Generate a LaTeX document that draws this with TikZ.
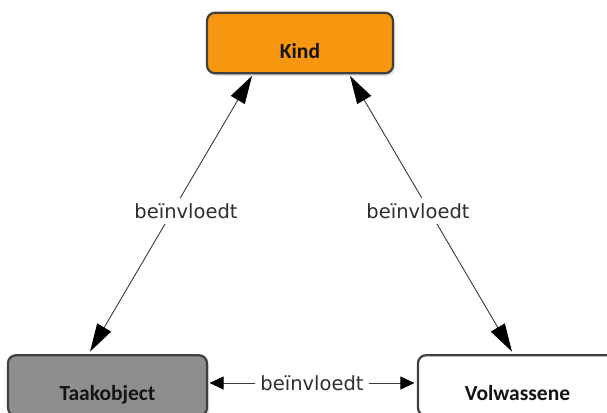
\documentclass[tikz,border=0pt]{standalone}
\usepackage{fontspec}
\setmainfont{DejaVu Sans}
\newfontfamily\boxfont{Carlito}
\usetikzlibrary{arrows.meta,shadows,calc}
\definecolor{kindorange}{HTML}{F7970F}
\definecolor{taakgrey}{HTML}{8E8E8E}
\definecolor{boxborder}{HTML}{404040}
\definecolor{conncol}{HTML}{3A3A3A}
\definecolor{lblcol}{HTML}{2E2E2E}
\begin{document}
\begin{tikzpicture}[x=1pt,y=-1pt,
  box/.style={draw=boxborder, line width=2.2pt, rounded corners=8pt,
    inner sep=0pt, text depth=15pt, text height=45.5pt,
    font=\boxfont\bfseries\fontsize{21.5}{21.5}\selectfont, text=black!92,
    drop shadow={opacity=0.25, shadow xshift=2pt, shadow yshift=-2.5pt}},
  conn/.style={draw=conncol, line width=0.9pt},
  bigtips/.style={{Triangle[length=28pt,width=16pt,color=black]}-{Triangle[length=28pt,width=16pt,color=black]}},
  smalltips/.style={{Triangle[length=14pt,width=13pt,color=black]}-{Triangle[length=14pt,width=13pt,color=black]}},
  lbl/.style={fill=white, inner sep=5pt, text=lblcol, font=\fontsize{19.5}{19.5}\selectfont}
]
\useasboundingbox (0,0) rectangle (607,412);
\fill[white] (0,0) rectangle (607,412);

\node[box, fill=kindorange, minimum width=186pt] (kind) at (300,43) {Kind};
\node[box, fill=taakgrey, minimum width=199pt] (taak) at (107.5,385.5) {Taakobject};
\node[box, fill=white, minimum width=199pt] (volw) at (517.5,385.5) {Volwassene};

\draw[conn, bigtips] ($(kind.south)+(-48,1.5)$) -- ($(taak.north)+(-17.5,-2.5)$);
\draw[conn, bigtips] ($(kind.south)+(50,1.5)$) -- ($(volw.north)+(-5.5,-2.5)$);
\draw[conn, smalltips] ($(taak.east)+(1.5,-2.5)$) -- ($(volw.west)+(-2.5,-2.5)$);

\node[lbl] (lblleft) at (186,211) {beïnvloedt};
\node[lbl] (lblright) at (418,211) {beïnvloedt};
\node[lbl] (lblbottom) at (312,383) {beïnvloedt};
\end{tikzpicture}
\end{document}
